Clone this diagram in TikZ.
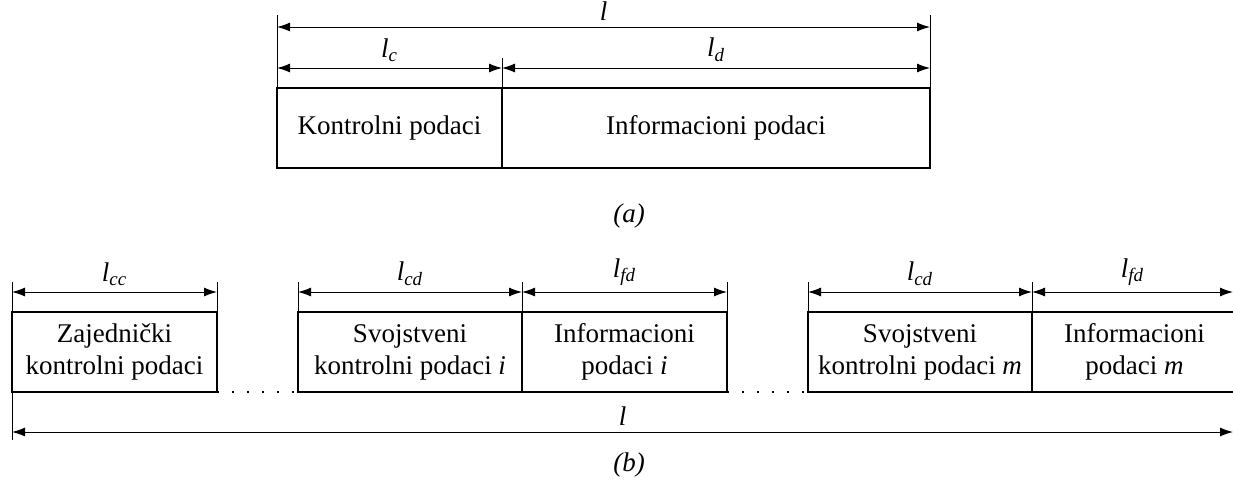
\documentclass[tikz,border=0pt]{standalone}
\usepackage{fontspec}
\setmainfont{Liberation Serif}
\usetikzlibrary{arrows.meta, positioning}

\newcommand{\duz}[2]{\textit{#1}\textsubscript{\textit{#2}}}

\begin{document}
\begin{tikzpicture}[x=0.5pt, y=-0.5pt, >={Latex[length=6.5pt,width=4.5pt]},
    blok/.style={draw, line width=0.8pt, minimum height=40pt, inner sep=0pt,
        outer sep=0pt, align=center, font=\fontsize{13.5}{16}\selectfont},
    mera/.style={<->, line width=0.5pt},
    crta/.style={line width=0.5pt},
    tacke/.style={line width=0.8pt, dash pattern=on 0.8pt off 6.7pt},
    oznaka/.style={above, inner sep=3pt, font=\fontsize{13.5}{16}\selectfont}]

    \useasboundingbox (0,0) rectangle (1233,494);
    \clip (0,0) rectangle (1233,494);

    % (a) okvir sa kontrolnim i informacionim podacima
    \node[blok, minimum width=112.5pt, anchor=north west] (kp) at (277,88) {Kontrolni podaci};
    \node[blok, minimum width=214pt, right=0pt of kp] (ip) {Informacioni podaci};

    \draw[crta] (kp.north west) -- ++(0,-73);
    \draw[crta] (ip.north east) -- ++(0,-73);
    \draw[crta] (kp.north east) -- ++(0,-30);

    \draw[mera] ([yshift=30.5pt]kp.north west) -- node[oznaka] {\textit{l}} ([yshift=30.5pt]ip.north east);
    \draw[mera] ([yshift=10pt]kp.north west) -- node[oznaka] {\duz{l}{c}} ([yshift=10pt]kp.north east);
    \draw[mera] ([yshift=10pt]ip.north west) -- node[oznaka] {\duz{l}{d}} ([yshift=10pt]ip.north east);

    \node[font=\fontsize{13.5}{16}\selectfont\itshape] (capa) at (629,216) {(a)};

    % (b) okvir sa vise korisnika
    \node[blok, minimum width=102.5pt, anchor=north west] (zk) at (12,312) {Zajednički\\kontrolni podaci};
    \node[blok, minimum width=112pt, anchor=north west] (ski) at (298,312) {Svojstveni\\kontrolni podaci \textit{i}};
    \node[blok, minimum width=102.5pt, right=0pt of ski] (ipi) {Informacioni\\podaci \textit{i}};
    \node[blok, minimum width=112pt, anchor=north west] (skm) at (808,312) {Svojstveni\\kontrolni podaci \textit{m}};
    \node[blok, minimum width=102.5pt, right=0pt of skm] (ipm) {Informacioni\\podaci \textit{m}};
    \coordinate (kraj) at (1233,392);

    \draw[tacke] (zk.south east) -- (ski.south west);
    \draw[tacke] (ipi.south east) -- (skm.south west);

    \draw[crta] ([yshift=15pt]zk.north west) -- ([yshift=-24pt]zk.south west);
    \foreach \a in {zk.north east, ski.north west, ski.north east, ipi.north east, skm.north west, skm.north east}
        \draw[crta] (\a) -- ++(0,-30);

    \draw[mera] ([yshift=10pt]zk.north west) -- node[oznaka] {\duz{l}{cc}} ([yshift=10pt]zk.north east);
    \draw[mera] ([yshift=10pt]ski.north west) -- node[oznaka] {\duz{l}{cd}} ([yshift=10pt]ski.north east);
    \draw[mera] ([yshift=10pt]ipi.north west) -- node[oznaka] {\duz{l}{fd}} ([yshift=10pt]ipi.north east);
    \draw[mera] ([yshift=10pt]skm.north west) -- node[oznaka] {\duz{l}{cd}} ([yshift=10pt]skm.north east);
    \draw[mera] ([yshift=10pt]ipm.north west) -- node[oznaka] {\duz{l}{fd}} ([yshift=10pt]ipm.north west -| kraj);
    \draw[mera] ([yshift=-20pt]zk.south west) -- node[oznaka] {\textit{l}} ([yshift=-20pt]kraj);

    \node[font=\fontsize{13.5}{16}\selectfont\itshape] (capb) at (629,465) {(b)};
\end{tikzpicture}
\end{document}
